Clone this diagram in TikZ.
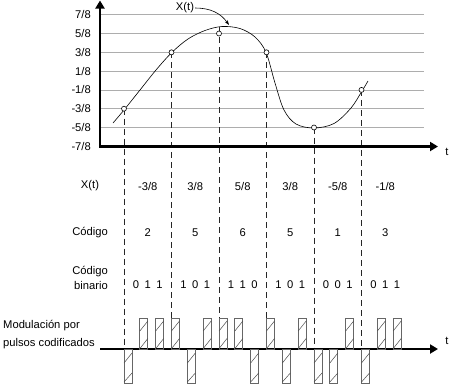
\documentclass[tikz,border=0pt]{standalone}
\usepackage{fontspec}
\setmainfont{Liberation Sans}
\usetikzlibrary{arrows.meta}
\newcommand\tribit[3]{#1\hspace{0.5em}#2\hspace{0.5em}#3}
\tikzset{
  gridline/.style={draw=black!32, line width=0.8pt},
  mainaxis/.style={line width=2.6pt, -{Triangle[length=8pt,width=9pt]}},
  samp/.style={dash pattern=on 6pt off 4pt, line width=0.7pt, draw=black!85},
  dot/.style={circle, draw, fill=white, inner sep=0pt, minimum size=5pt, line width=0.6pt},
  lab/.style={inner sep=0pt},
  pulseframe/.style={draw=black!60, line width=0.8pt},
  hatchline/.style={draw=black!70, line width=0.5pt},
  pospulse/.pic={
    \draw[pulseframe] (0,0) rectangle (8,-31);
    \draw[hatchline] (0.5,-1) -- (8,-10.5);
    \draw[hatchline] (0,-18) -- (8,-28);
  },
  negpulse/.pic={
    \draw[pulseframe] (0,0) rectangle (8,34);
    \draw[hatchline] (0,14) -- (8,4);
    \draw[hatchline] (0,33) -- (8,24);
  }
}
\begin{document}
\begin{tikzpicture}[x=1pt,y=-1pt,font=\fontsize{11.2}{13}\selectfont]
\useasboundingbox (0,0) rectangle (450,384);
% grid
\foreach \yy in {14.7,33.5,52.3,71.1,89.9,108.7,127.5}
  \draw[gridline] (100,\yy) -- (424,\yy);
% y labels
\foreach \yy/\tt in {14.7/7\slash8,33.5/5\slash8,52.3/3\slash8,71.1/1\slash8,89.9/-1\slash8,108.7/-3\slash8,127.5/-5\slash8,146.5/-7\slash8}
  \node[lab, anchor=east] at (91,\yy) {\tt};
% curve
\draw[line width=0.6pt] plot[smooth, tension=0.55] coordinates {(113,123) (124,110) (140,90) (156,70) (172,52.3) (188,39) (205,30.5) (222,26.5) (240,28.5) (255,37) (266,52.3) (275,83) (284,110) (296,124) (314,128) (334,123.5) (351,108) (362,91) (368,81)};
% sample coordinates
\coordinate (s1) at (124,108.7);
\coordinate (s2) at (171.5,52.3);
\coordinate (c3) at (219,27);
\coordinate (s3) at (219,33.5);
\coordinate (s4) at (266.5,52.3);
\coordinate (s5) at (314,127.5);
\coordinate (s6) at (361.5,89.9);
\foreach \i/\xx in {1/124,2/171.5,3/219,4/266.5,5/314,6/361.5}
  \coordinate (b\i) at (\xx,349);
\draw[samp] (s1) -- (b1);
\draw[samp] (s2) -- (b2);
\draw[samp] (c3) -- (b3);
\draw[samp] (s4) -- (b4);
\draw[samp] (s5) -- (b5);
\draw[samp] (s6) -- (b6);
\foreach \i in {1,...,6} \node[dot] (d\i) at (s\i) {};
% axes
\draw[line width=2.6pt, {Triangle[length=8pt,width=9pt]}-{Triangle[length=8pt,width=9pt]}] (100,0.5) -- (100,146.5) -- (438,146.5);
\node[lab] (t1) at (447,152) {t};
\draw[mainaxis] (100,349) -- (438,349);
\node[lab] (t2) at (447,341) {t};
% X(t) label
\node[lab] (xt) at (185,8) {X(t)};
\coordinate (xtip) at (229,25);
\draw[line width=0.6pt, -{Stealth[length=5pt,width=3.5pt]}] ([xshift=1pt]xt.east) to[out=0,in=125] (xtip);
% table rows
\node[lab] (hx) at (90,186) {X(t)};
\node[lab] (hc) at (90,233) {Código};
\node[lab, align=right, anchor=east, font=\fontsize{11.2}{14.5}\selectfont] (hb) at (108,278) {Código\\binario};
\node[lab, align=left, anchor=west, font=\fontsize{11.2}{18}\selectfont] (hm) at (3,335) {Modulación por\\pulsos codificados};
\foreach \xv/\cv/\bv [count=\k from 0] in {-3\slash8/2/011, 3\slash8/5/101, 5\slash8/6/110, 3\slash8/5/101, -5\slash8/1/001, -1\slash8/3/011}{
  \pgfmathsetmacro\mx{147.75+47.5*\k}
  \node[lab] (vx\k) at (\mx,186) {\xv};
  \node[lab] (vc\k) at (\mx,233) {\cv};
  \node[lab] (vb\k) at (\mx,285) {\expandafter\tribit\bv};
}
% pulses
\foreach \b [count=\k from 0] in {0,1,1, 1,0,1, 1,1,0, 1,0,1, 0,0,1, 0,1,1}{
  \pgfmathsetmacro\px{124+15.8333*\k}
  \ifnum\b=1 \pic at (\px,349) {pospulse}; \else \pic at (\px,349) {negpulse}; \fi
}
\end{tikzpicture}
\end{document}
